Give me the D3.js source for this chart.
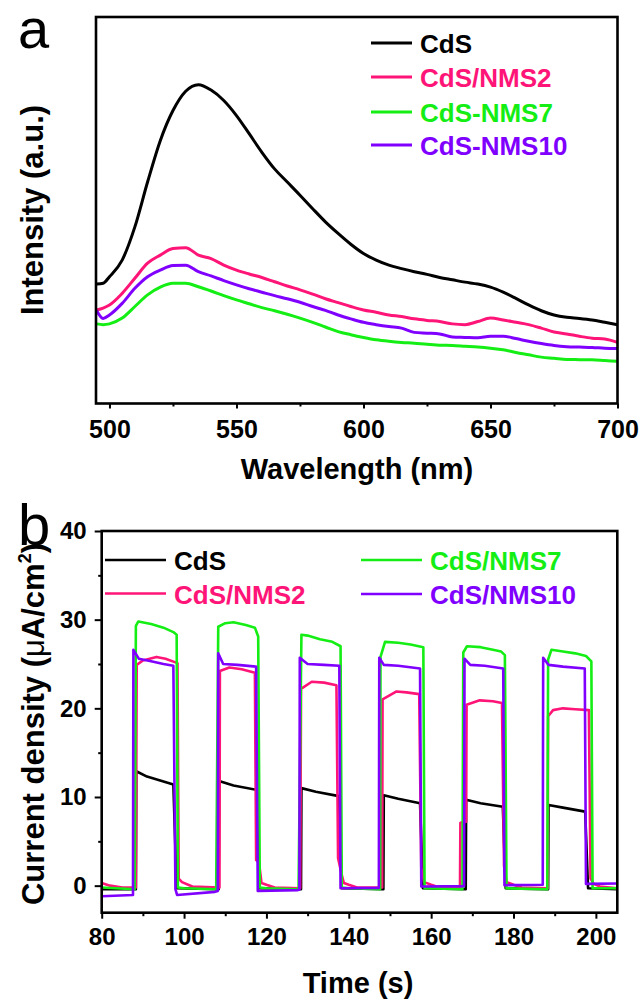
<!DOCTYPE html>
<html>
<head>
<meta charset="utf-8">
<script src="https://cdn.jsdelivr.net/npm/d3@7/dist/d3.min.js"></script>
<style>
body { margin: 0; background: #fff; }
text { font-family: "Liberation Sans", Arial, sans-serif; font-weight: bold; }
text.panel { font-weight: normal; }
</style>
</head>
<body>
<svg id="fig" width="641" height="1001"></svg>
<script>
// ---------- panel a: PL spectra (a.u.) ----------
const wavelength = [495, 497.5, 500, 505, 510, 515, 520, 525, 530, 535, 540, 545, 550, 555, 560, 565, 570, 575, 580, 585, 590,
    595, 600, 605, 610, 615, 620, 625, 630, 635, 640, 645, 650, 655, 660, 665, 670, 675, 680, 685, 690, 695, 700];
const plCdS = [30.9, 31.1, 32.8, 37.1, 45.7, 57.3, 68.0, 75.8, 80.8, 82.5, 81.1, 78.4, 74.5, 69.8, 65.0, 60.7, 57.3, 53.9, 50.4, 47.0, 44.0,
    41.2, 38.8, 37.1, 35.8, 34.9, 34.1, 33.4, 32.6, 32.0, 31.4, 30.9, 30.1, 28.8, 27.2, 25.5, 24.0, 22.9, 22.3, 22.0, 21.6, 21.0, 20.4];
const plNMS2 = [24.2, 24.7, 25.5, 28.5, 32.4, 36.3, 38.4, 40.1, 40.3, 38.4, 37.5, 35.8, 34.5, 33.5, 32.6, 31.5, 30.4, 29.4, 28.3, 27.1, 26.1,
    25.1, 24.2, 23.6, 22.9, 22.5, 21.9, 21.5, 21.2, 20.6, 20.4, 21.2, 22.1, 21.6, 21.0, 20.4, 19.5, 18.5, 18.0, 17.4, 16.9, 16.7, 15.8];
const plNMS7 = [20.6, 20.4, 20.6, 22.1, 25.1, 28.1, 30.1, 31.1, 31.1, 30.2, 29.1, 27.9, 26.8, 25.8, 24.8, 24.0, 23.1, 22.1, 21.0, 19.8, 18.6,
    17.8, 17.1, 16.5, 16.1, 15.8, 15.6, 15.3, 15.1, 15.0, 14.8, 14.6, 14.3, 13.9, 13.2, 12.6, 12.0, 11.7, 11.4, 11.35, 11.3, 11.1, 10.9];
const plNMS10 = [24.0, 22.0, 22.9, 25.9, 29.8, 32.8, 34.5, 35.7, 35.8, 34.1, 33.0, 31.8, 30.7, 29.7, 28.8, 27.9, 27.1, 26.2, 25.1, 24.1, 22.9,
    21.9, 21.0, 20.4, 19.9, 19.5, 18.4, 18.2, 18.0, 17.2, 17.1, 17.0, 17.4, 17.4, 16.8, 16.1, 15.5, 15.0, 14.7, 14.6, 14.5, 14.3, 14.2];
const wlTicks = [500, 550, 600, 650, 700];
const wlMinor = [525, 575, 625, 675];

// ---------- panel b: photocurrent (uA/cm2) ----------
const tCdS = [80, 88.3, 88.4, 91, 94, 97.4, 98.2, 108.4, 108.5, 112, 117.6, 118.2, 128.4, 128.5, 132, 137.6, 138.3,
    148.4, 148.5, 152, 157.3, 158.0, 168.4, 168.5, 172, 177.4, 178.1, 188.4, 188.5, 192, 197.4, 198.1, 205.2];
const jCdS = [-0.4, -0.4, 12.9, 12.3, 11.9, 11.4, -0.3, -0.4, 11.8, 11.3, 10.8, -0.3, -0.4, 11.0, 10.6, 10.1, -0.3,
    -0.4, 10.2, 9.8, 9.3, -0.3, -0.4, 9.7, 9.3, 8.9, -0.3, -0.4, 9.1, 8.8, 8.35, -0.3, -0.4];

const tNMS2 = [80, 82, 85, 88.3, 88.5, 90, 93.3, 95.5, 98.4, 98.7, 99.5, 102,
    108.6, 108.7, 111, 114, 117.2, 117.5, 118.2, 118.8, 120, 122,
    128.2, 128.4, 131, 134, 137.0, 137.4, 138.2, 138.8, 140, 142,
    148.1, 148.2, 151.6, 154, 157.1, 157.6, 158.3, 160, 162,
    167.0, 167.1, 168.5, 168.6, 171.8, 175, 177.2, 177.7, 178.3, 180, 182,
    188.3, 188.4, 189.6, 192, 195, 198.3, 198.7, 199.5, 201, 205.2];
const jNMS2 = [0.3, 0.0, -0.2, -0.2, 24.9, 25.4, 25.8, 25.6, 25.1, 0.8, 0.4, -0.1,
    -0.2, 24.2, 24.6, 24.4, 24.0, 2.9, 2.6, 0.3, 0.1, -0.2,
    -0.3, 22.2, 23.0, 22.9, 22.6, 3.1, 1.4, 0.3, 0.1, -0.2,
    -0.2, 21.0, 21.9, 21.8, 21.6, 2.0, 0.4, 0.1, -0.2,
    -0.2, 7.1, 7.2, 20.4, 20.9, 20.8, 20.6, 2.2, 0.4, 0.1, -0.2,
    -0.3, 19.1, 19.8, 20.0, 19.9, 19.8, 0.8, 0.2, -0.1, -0.3];

const tNMS7 = [80, 88.0, 88.3, 88.9, 92, 95, 97.4, 98.2, 98.5, 100, 107.8,
    108.3, 110, 112, 115, 117.2, 118.0, 118.4, 120, 127.8,
    128.5, 130, 133, 136, 138.0, 138.3, 140, 147.6,
    147.7, 148.8, 152, 155, 158.1, 158.4, 167.6,
    167.8, 168.7, 172, 175, 177.0, 177.9, 178.3, 188.2,
    188.4, 189.2, 192, 195, 197.6, 198.9, 199.2, 205.2];
const jNMS7 = [-0.2, -0.4, 29.3, 29.8, 29.5, 29.1, 28.6, 28.3, -0.2, -0.3, -0.4,
    29.2, 29.6, 29.7, 29.4, 29.1, 28.1, -0.2, -0.3, -0.4,
    28.3, 28.2, 27.8, 27.5, 27.0, -0.2, -0.3, -0.4,
    25.8, 27.5, 27.4, 27.2, 26.9, -0.3, -0.4,
    26.3, 27.0, 26.9, 26.6, 26.4, 26.0, -0.3, -0.4,
    25.5, 26.6, 26.4, 26.2, 25.9, 25.3, -0.3, -0.3];

const tNMS10 = [80, 87.6, 87.7, 89, 92, 95, 97.4, 97.9, 98.3, 107.5,
    108.2, 108.3, 109.5, 113, 117.5, 117.9, 127.6,
    128.0, 128.1, 130, 134, 137.7, 138.0, 147.3,
    147.4, 148.5, 152, 157.3, 157.6, 167.9,
    168.0, 168.1, 169.5, 173, 177.5, 177.8, 187.1,
    187.2, 188.5, 192, 197.3, 197.6, 205.2];
const jNMS10 = [-1.2, -1.05, 26.6, 25.6, 25.3, 25.0, 24.8, -0.4, -1.05, -0.7,
    -0.6, 26.2, 25.0, 24.9, 24.7, -0.6, -0.5,
    -0.45, 25.7, 25.0, 24.9, 24.8, -0.3, -0.25,
    25.7, 24.9, 24.8, 24.5, -0.1, -0.05,
    -0.05, 25.6, 24.9, 24.8, 24.5, 0.05, 0.1,
    25.7, 24.9, 24.7, 24.5, 0.2, 0.25];
const timeTicks = [80, 100, 120, 140, 160, 180, 200];
const timeMinor = [90, 110, 130, 150, 170, 190];
const jTicks = [0, 10, 20, 30, 40];
const jMinor = [5, 15, 25, 35];

const colors = {cds: "#000000", nms2: "#ff1477", nms7: "#14ee14", nms10: "#8000ff"};

const svg = d3.select("#fig");

// ===== panel a =====
const xa = d3.scaleLinear().domain([494.7, 700]).range([96, 617.5]);
const ya = d3.scaleLinear().domain([0, 100]).range([403.5, 17]);

const ga = svg.append("g");

ga.append("g")
    .attr("transform", "translate(0,403.5)")
    .call(d3.axisBottom(xa).tickValues(wlMinor).tickSize(3).tickFormat(""))
    .call(g => g.select(".domain").remove())
    .call(g => g.selectAll("line").attr("stroke-width", 2));

ga.append("g")
    .attr("transform", "translate(0,403.5)")
    .call(d3.axisBottom(xa).tickValues(wlTicks).tickSize(5).tickPadding(12))
    .call(g => g.select(".domain").remove())
    .call(g => g.selectAll("line").attr("stroke-width", 2))
    .call(g => g.selectAll("text").attr("font-size", 25).attr("font-family", null).attr("fill", "#000"));

const lineA = d3.line()
    .x((d, i) => xa(wavelength[i]))
    .y(d => ya(d))
    .curve(d3.curveMonotoneX);

[[plCdS, colors.cds], [plNMS2, colors.nms2], [plNMS10, colors.nms10], [plNMS7, colors.nms7]].forEach(([vals, c]) => {
    ga.append("path")
        .datum(vals)
        .attr("d", lineA)
        .attr("fill", "none")
        .attr("stroke", c)
        .attr("stroke-width", 3)
        .attr("stroke-linejoin", "round");
});

ga.append("rect")
    .attr("x", 96).attr("y", 17)
    .attr("width", 617.5 - 96).attr("height", 403.5 - 17)
    .attr("fill", "none").attr("stroke", "#000").attr("stroke-width", 2.6);

const legA = [
    {label: "CdS", c: colors.cds},
    {label: "CdS/NMS2", c: colors.nms2},
    {label: "CdS-NMS7", c: colors.nms7},
    {label: "CdS-NMS10", c: colors.nms10}
];
const legAy = [43, 77, 112, 145];
legA.forEach((d, i) => {
    ga.append("line")
        .attr("x1", 371).attr("x2", 412)
        .attr("y1", legAy[i]).attr("y2", legAy[i])
        .attr("stroke", d.c).attr("stroke-width", 3);
    ga.append("text")
        .attr("x", 420).attr("y", legAy[i] + 9.5)
        .attr("font-size", 26)
        .attr("fill", d.c)
        .text(d.label);
});

ga.append("text")
    .attr("x", 357).attr("y", 479)
    .attr("text-anchor", "middle")
    .attr("font-size", 29)
    .text("Wavelength (nm)");

ga.append("text")
    .attr("transform", "translate(43,210) rotate(-90)")
    .attr("text-anchor", "middle")
    .attr("font-size", 31)
    .text("Intensity (a.u.)");

ga.append("text")
    .attr("class", "panel")
    .attr("x", 18).attr("y", 48)
    .attr("font-size", 56)
    .text("a");

// ===== panel b =====
const xb = d3.scaleLinear().domain([80, 205.2]).range([101.7, 617.3]);
const yb = d3.scaleLinear().domain([-3.05, 40]).range([912.7, 531]);

const gb = svg.append("g");

gb.append("g")
    .attr("transform", "translate(0,912.7)")
    .call(d3.axisBottom(xb).tickValues(timeMinor).tickSize(3.5).tickFormat(""))
    .call(g => g.select(".domain").remove())
    .call(g => g.selectAll("line").attr("stroke-width", 2));

gb.append("g")
    .attr("transform", "translate(0,912.7)")
    .call(d3.axisBottom(xb).tickValues(timeTicks).tickSize(6).tickPadding(9))
    .call(g => g.select(".domain").remove())
    .call(g => g.selectAll("line").attr("stroke-width", 2))
    .call(g => g.selectAll("text").attr("font-size", 24).attr("font-family", null).attr("fill", "#000"));

gb.append("g")
    .attr("transform", "translate(101.7,0)")
    .call(d3.axisLeft(yb).tickValues(jMinor).tickSize(3.5).tickFormat(""))
    .call(g => g.select(".domain").remove())
    .call(g => g.selectAll("line").attr("stroke-width", 2));

gb.append("g")
    .attr("transform", "translate(101.7,0)")
    .call(d3.axisLeft(yb).tickValues(jTicks).tickSize(7).tickPadding(8))
    .call(g => g.select(".domain").remove())
    .call(g => g.selectAll("line").attr("stroke-width", 2))
    .call(g => g.selectAll("text").attr("font-size", 24).attr("font-family", null).attr("fill", "#000"));

const series = [
    {t: tCdS, j: jCdS, c: colors.cds},
    {t: tNMS2, j: jNMS2, c: colors.nms2},
    {t: tNMS7, j: jNMS7, c: colors.nms7},
    {t: tNMS10, j: jNMS10, c: colors.nms10}
];

series.forEach(s => {
    const lineB = d3.line()
        .x((d, i) => xb(s.t[i]))
        .y(d => yb(d));
    gb.append("path")
        .datum(s.j)
        .attr("d", lineB)
        .attr("fill", "none")
        .attr("stroke", s.c)
        .attr("stroke-width", 2.6)
        .attr("stroke-linejoin", "round");
});

gb.append("rect")
    .attr("x", 101.7).attr("y", 531)
    .attr("width", 617.3 - 101.7).attr("height", 912.7 - 531)
    .attr("fill", "none").attr("stroke", "#000").attr("stroke-width", 2.6);

const legB = [
    {label: "CdS", c: colors.cds, x: 105, y: 560},
    {label: "CdS/NMS2", c: colors.nms2, x: 105, y: 593.5},
    {label: "CdS/NMS7", c: colors.nms7, x: 361, y: 560},
    {label: "CdS/NMS10", c: colors.nms10, x: 361, y: 594}
];
legB.forEach(d => {
    gb.append("line")
        .attr("x1", d.x).attr("x2", d.x + 61)
        .attr("y1", d.y).attr("y2", d.y)
        .attr("stroke", d.c).attr("stroke-width", 2.6);
    gb.append("text")
        .attr("x", d.x + 69).attr("y", d.y + 10)
        .attr("font-size", 26)
        .attr("fill", d.c)
        .text(d.label);
});

gb.append("text")
    .attr("x", 358).attr("y", 993)
    .attr("text-anchor", "middle")
    .attr("font-size", 29)
    .text("Time (s)");

const yl = gb.append("text")
    .attr("transform", "translate(44,724) rotate(-90)")
    .attr("text-anchor", "middle")
    .attr("font-size", 31);
yl.append("tspan").text("Current density (");
yl.append("tspan").style("font-weight", "normal").text("\u03bc");
yl.append("tspan").text("A/cm");
yl.append("tspan").attr("font-size", 18).attr("dy", -13).text("2");
yl.append("tspan").attr("dy", 13).text(")");

gb.append("text")
    .attr("class", "panel")
    .attr("x", 18).attr("y", 545)
    .attr("font-size", 58)
    .text("b");
</script>
</body>
</html>
